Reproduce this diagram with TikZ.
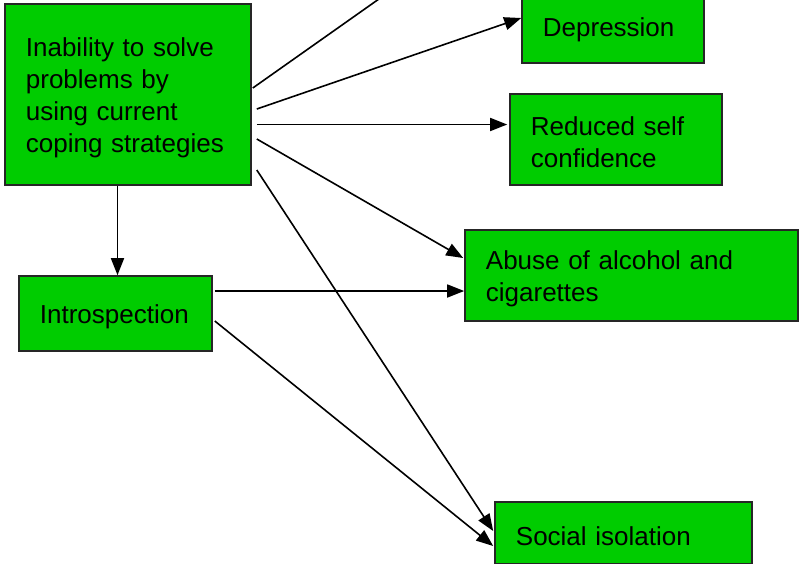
\documentclass[tikz,border=0pt]{standalone}
\usepackage{fontspec}
\setmainfont{Liberation Sans}
\usetikzlibrary{arrows.meta}
\definecolor{boxgreen}{HTML}{00CC00}
\tikzset{
  box/.style={draw=black!85, line width=1.6pt, fill=boxgreen, inner sep=0pt},
  txt/.style={anchor=west, align=left, inner sep=0pt, xshift=21.5pt, yshift=-3pt,
    font=\fontsize{26}{32}\selectfont},
  arr/.style={line width=1.6pt, -{Triangle[length=17pt,width=13pt]}},
  plain/.style={line width=1.6pt}
}
\begin{document}
\begin{tikzpicture}[x=1pt,y=-1pt]
\clip (0,0) rectangle (802,563);
\node[box, minimum width=246pt, minimum height=181pt] (inab) at (128,94.5) {};
\node[txt, text width=203pt] (inabT) at (inab.west) {Inability to solve\\problems by\\using current\\coping strategies};
\node[box, minimum width=182pt, minimum height=72pt] (dep) at (613,27) {};
\node[txt, text width=139pt] (depT) at (dep.west) {Depression};
\node[box, minimum width=212pt, minimum height=91pt] (red) at (616,139.5) {};
\node[txt, text width=169pt] (redT) at (red.west) {Reduced self\\confidence};
\node[box, minimum width=333pt, minimum height=91pt] (abu) at (631.5,275.5) {};
\node[txt, text width=290pt] (abuT) at (abu.west) {Abuse of alcohol and\\cigarettes};
\node[box, minimum width=193pt, minimum height=75pt] (intro) at (115.5,313.5) {};
\node[txt, text width=150pt] (introT) at (intro.west) {Introspection};
\node[box, minimum width=257pt, minimum height=62pt] (soc) at (623.5,533) {};
\node[txt, text width=214pt] (socT) at (soc.west) {Social isolation};
\coordinate (offtop) at (420,-30);
\draw[plain] ([xshift=1pt,yshift=6.5pt]inab.east) -- (offtop);
\draw[arr] ([xshift=5pt,yshift=-14.5pt]inab.east) -- ([yshift=9pt]dep.west);
\draw[arr] ([xshift=5pt,yshift=-30pt]inab.east) -- ([xshift=-2pt,yshift=-30pt]inab.east -| red.west);
\draw[arr] ([xshift=5pt,yshift=-44.5pt]inab.east) -- ([xshift=-1pt,yshift=17.5pt]abu.west);
\draw[arr] ([xshift=5pt,yshift=-75.5pt]inab.east) -- ([xshift=-1pt,yshift=2pt]soc.west);
\draw[arr] ([xshift=-10.5pt]inab.south) -- ([xshift=2pt]intro.north);
\draw[arr] ([xshift=2pt,yshift=22.5pt]intro.east) -- ([yshift=22.5pt]intro.east -| abu.west);
\draw[arr] ([xshift=2pt,yshift=-7.5pt]intro.east) -- ([xshift=-1pt,yshift=-13pt]soc.west);
\end{tikzpicture}
\end{document}
